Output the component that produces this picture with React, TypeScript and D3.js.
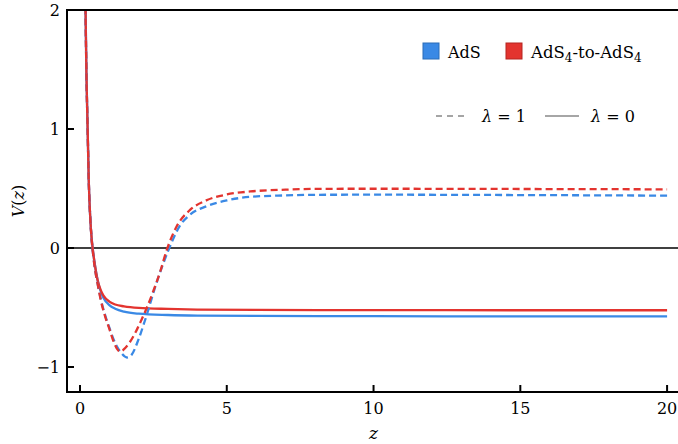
import React from "react";
import * as d3 from "d3";

const W = 678;
const H = 444;

const xTicks = [0, 5, 10, 15, 20];
const yTicks = [-1, 0, 1, 2];

const zSolid = [0.18, 0.19, 0.22, 0.26, 0.3, 0.35, 0.4, 0.45, 0.5, 0.6, 0.7, 0.8, 1.0, 1.2, 1.5, 2.0, 3, 4, 6, 10, 15, 20];
const adsSolid = [2.3, 2.0, 1.45, 1.0, 0.55, 0.25, 0.07, -0.04, -0.13, -0.27, -0.36, -0.42, -0.48, -0.51, -0.535, -0.552, -0.563, -0.568, -0.571, -0.573, -0.574, -0.574];
const a4Solid = [2.3, 2.0, 1.45, 1.0, 0.55, 0.25, 0.07, -0.04, -0.13, -0.27, -0.35, -0.4, -0.45, -0.475, -0.49, -0.503, -0.512, -0.517, -0.52, -0.522, -0.523, -0.523];

const zAdsDash = [0.18, 0.19, 0.22, 0.26, 0.3, 0.35, 0.4, 0.45, 0.5, 0.6, 0.7, 0.85, 1.0, 1.2, 1.4, 1.6, 1.75, 1.99, 2.25, 2.61, 3.01, 3.41, 3.75, 4.3, 5, 5.8, 7, 8, 10, 15, 20];
const adsDash = [2.3, 2.0, 1.45, 1.0, 0.55, 0.25, 0.06, -0.06, -0.16, -0.3, -0.42, -0.56, -0.67, -0.8, -0.88, -0.92, -0.9, -0.77, -0.58, -0.29, -0.02, 0.19, 0.28, 0.35, 0.4, 0.43, 0.442, 0.447, 0.448, 0.445, 0.44];

const zA4Dash = [0.18, 0.19, 0.22, 0.26, 0.3, 0.35, 0.4, 0.45, 0.5, 0.6, 0.7, 0.85, 1.0, 1.15, 1.3, 1.4, 1.5, 1.7, 1.93, 2.1, 2.28, 2.5, 2.73, 2.95, 3.29, 3.75, 4.3, 5, 5.8, 7, 8, 10, 15, 20];
const a4Dash = [2.3, 2.0, 1.45, 1.0, 0.55, 0.25, 0.06, -0.06, -0.16, -0.3, -0.43, -0.57, -0.68, -0.79, -0.86, -0.87, -0.85, -0.79, -0.69, -0.6, -0.5, -0.36, -0.2, -0.02, 0.18, 0.32, 0.4, 0.45, 0.475, 0.49, 0.497, 0.498, 0.496, 0.493];

const BLUE = "#3a89e5";
const RED = "#e3342f";
const FONT = "'DejaVu Serif'";

export default function App() {
  const x = d3.scaleLinear().domain([-0.443, 20.44]).range([67, 680]);
  const y = d3.scaleLinear().domain([-1.21, 2]).range([392, 10]);

  const line = (zs: number[], vs: number[]) =>
    d3
      .line<number>()
      .x((_, i) => x(zs[i]))
      .y((v) => y(v))
      .curve(d3.curveMonotoneX)(vs) || "";

  const series = [
    { d: line(zSolid, adsSolid), c: BLUE, dash: "" },
    { d: line(zSolid, a4Solid), c: RED, dash: "" },
    { d: line(zAdsDash, adsDash), c: BLUE, dash: "7,4" },
    { d: line(zA4Dash, a4Dash), c: RED, dash: "7,4" },
  ];

  const [x0, x1] = x.range();
  const [yb, yt] = y.range();
  const ts: React.CSSProperties = { fontFamily: FONT };

  return (
    <svg
      width={W}
      height={H}
      style={{ position: "absolute", left: 0, top: 0, background: "#fff", fontFamily: FONT }}
    >
      <defs>
        <clipPath id="plotclip">
          <rect x={x0} y={yt} width={x1 - x0} height={yb - yt} />
        </clipPath>
      </defs>
      <rect x={0} y={0} width={W} height={H} fill="#fff" />
      <line x1={x0} x2={x1} y1={y(0)} y2={y(0)} stroke="#000" strokeWidth={1.5} />
      <g clipPath="url(#plotclip)">
        {series.map((s, i) => (
          <path
            key={i}
            d={s.d}
            fill="none"
            stroke={s.c}
            strokeWidth={2.3}
            strokeDasharray={s.dash || undefined}
          />
        ))}
      </g>
      <line x1={x0} x2={x0} y1={yt} y2={yb} stroke="#000" strokeWidth={2} />
      <line x1={x0 - 1} x2={x1} y1={yb} y2={yb} stroke="#000" strokeWidth={2} />
      <line x1={x0 - 1} x2={x1} y1={yt} y2={yt} stroke="#000" strokeWidth={2} />
      {yTicks.map((t) => (
        <g key={"y" + t}>
          <line x1={x0} x2={x0 + 7} y1={y(t)} y2={y(t)} stroke="#000" strokeWidth={2} />
          <text x={x0 - 7} y={y(t) + 6} textAnchor="end" fontSize={16} style={ts}>
            {t < 0 ? "\u2212" + Math.abs(t) : t}
          </text>
        </g>
      ))}
      {xTicks.map((t) => (
        <g key={"x" + t}>
          <line x1={x(t)} x2={x(t)} y1={yb} y2={yb - 7} stroke="#000" strokeWidth={2} />
          <text x={x(t)} y={414} textAnchor="middle" fontSize={16} style={ts}>
            {t}
          </text>
        </g>
      ))}
      <text x={x(10)} y={439} textAnchor="middle" fontSize={17} fontStyle="italic" style={ts}>
        z
      </text>
      <text
        transform={`translate(24, ${(yt + yb) / 2}) rotate(-90)`}
        textAnchor="middle"
        fontSize={16}
        style={ts}
      >
        <tspan fontStyle="italic">V</tspan>
        <tspan>(</tspan>
        <tspan fontStyle="italic">z</tspan>
        <tspan>)</tspan>
      </text>
      <rect x={423} y={43} width={16} height={16} fill={BLUE} stroke="#2a6cb8" strokeWidth={1} />
      <text x={448} y={58} fontSize={16} style={ts}>AdS</text>
      <rect x={506} y={43} width={16} height={16} fill={RED} stroke="#b52520" strokeWidth={1} />
      <text x={531} y={58} fontSize={16.5} style={ts}>
        AdS<tspan fontSize={12} dy={4}>4</tspan>
        <tspan dy={-4}>-to-AdS</tspan>
        <tspan fontSize={12} dy={4}>4</tspan>
      </text>
      <line x1={436} x2={469} y1={116} y2={116} stroke="#888" strokeWidth={1.5} strokeDasharray="6,5" />
      <text x={482} y={122} fontSize={16} style={ts}>
        <tspan fontStyle="italic">λ</tspan> = 1
      </text>
      <line x1={545} x2={579} y1={116} y2={116} stroke="#888" strokeWidth={1.5} />
      <text x={591} y={122} fontSize={16} style={ts}>
        <tspan fontStyle="italic">λ</tspan> = 0
      </text>
    </svg>
  );
}
